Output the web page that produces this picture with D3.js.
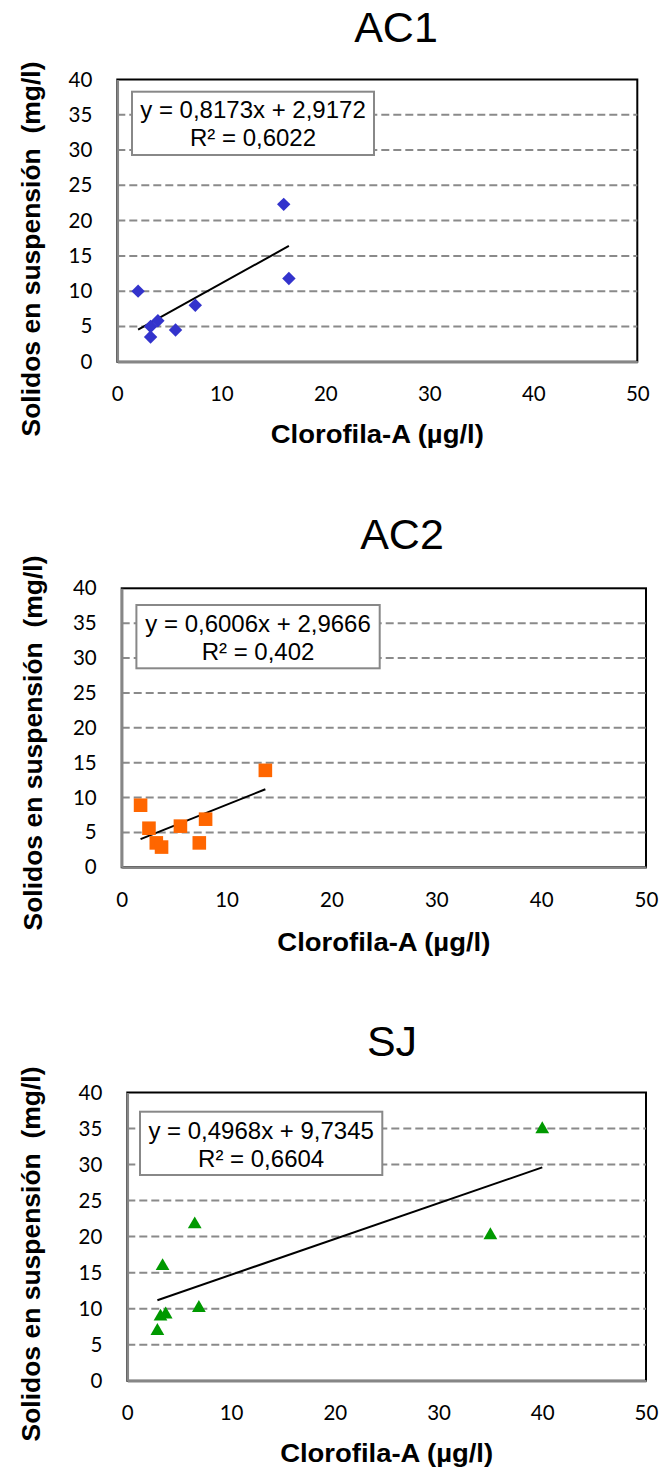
<!DOCTYPE html>
<html>
<head>
<meta charset="utf-8">
<script src="https://cdn.jsdelivr.net/npm/d3@7"></script>
<style>
  html, body { margin: 0; padding: 0; background: #ffffff; }
  svg { display: block; }
</style>
</head>
<body>
<svg id="chart" width="662" height="1473"></svg>
<script>
// ---------------- DATA ----------------
const chartTitles = ["AC1", "AC2", "SJ"];

const ac1X = [2.0, 3.2, 3.2, 3.9, 5.6, 7.5, 16.0, 16.5];
const ac1Y = [10.0, 5.0, 3.5, 5.8, 4.5, 8.0, 22.3, 11.8];

const ac2X = [1.8, 2.6, 3.3, 3.8, 5.6, 7.4, 8.0, 13.7];
const ac2Y = [8.9, 5.6, 3.5, 2.9, 5.9, 3.5, 6.9, 13.9];

const sjX = [2.9, 3.2, 3.7, 3.4, 6.5, 6.9, 35.0, 40.0];
const sjY = [6.9, 8.9, 9.2, 15.9, 21.7, 10.1, 20.2, 34.9];

const trendSlopes = [0.8173, 0.6006, 0.4968];
const trendIntercepts = [2.9172, 2.9666, 9.7345];
const equationLabels = ["y = 0,8173x + 2,9172", "y = 0,6006x + 2,9666", "y = 0,4968x + 9,7345"];
const r2Labels = ["R² = 0,6022", "R² = 0,402", "R² = 0,6604"];

const xTicks = [0, 10, 20, 30, 40, 50];
const yTicks = [0, 5, 10, 15, 20, 25, 30, 35, 40];
const xDomain = [0, 50];
const yDomain = [0, 40];

const xAxisTitle = "Clorofila-A (µg/l)";
const yAxisTitle = "Solidos en suspensión  (mg/l)";

// ---------------- LAYOUT / STYLE ----------------
const layouts = [
  { left: 117.3, right: 637.3, top: 79.5,  bottom: 361.7,  titleX: 396, titleY: 42,
    boxL: 132, boxR: 374, boxT: 91.7, boxB: 155, line1: 118, line2: 146, yTitleX: 40, yTitleCY: 249, xTitleY: 443,
    color: "#3333CC", shape: "diamond" },
  { left: 121.7, right: 646, top: 588.3, bottom: 867.3, titleX: 402, titleY: 549,
    boxL: 136.4, boxR: 379.7, boxT: 605, boxB: 668.3, line1: 632, line2: 660, yTitleX: 42, yTitleCY: 743, xTitleY: 951,
    color: "#FF6600", shape: "square" },
  { left: 127.3, right: 646, top: 1092.5, bottom: 1380.7, titleX: 392, titleY: 1056,
    boxL: 140, boxR: 382.3, boxT: 1111.7, boxB: 1175, line1: 1138.5, line2: 1167, yTitleX: 40, yTitleCY: 1254, xTitleY: 1462,
    color: "#009900", shape: "triangle" }
];

const seriesX = [ac1X, ac2X, sjX];
const seriesY = [ac1Y, ac2Y, sjY];

const svg = d3.select("#chart");
svg.append("rect").attr("width", 662).attr("height", 1473).attr("fill", "#ffffff");

layouts.forEach((L, i) => {
  const g = svg.append("g");
  const x = d3.scaleLinear().domain(xDomain).range([L.left, L.right]);
  const y = d3.scaleLinear().domain(yDomain).range([L.bottom, L.top]);

  // Title
  g.append("text")
    .attr("x", L.titleX).attr("y", L.titleY)
    .attr("text-anchor", "middle")
    .attr("font-family", "'Liberation Sans', Arial, sans-serif")
    .attr("font-size", 43)
    .attr("fill", "#000")
    .text(chartTitles[i]);

  // Plot area border (black)
  g.append("rect")
    .attr("x", L.left).attr("y", L.top)
    .attr("width", L.right - L.left).attr("height", L.bottom - L.top)
    .attr("fill", "#fff").attr("stroke", "#000").attr("stroke-width", 2);

  // Gridlines (dashed)
  g.append("g").selectAll("line")
    .data(yTicks.filter(t => t > yDomain[0] && t < yDomain[1]))
    .join("line")
    .attr("x1", L.left).attr("x2", L.right)
    .attr("y1", d => y(d)).attr("y2", d => y(d))
    .attr("stroke", "#8a8a8a").attr("stroke-width", 2)
    .attr("stroke-dasharray", "8,4");

  // Axes (gray lines left & bottom)
  const yAxis = d3.axisLeft(y).tickValues(yTicks).tickSize(0).tickPadding(25).tickFormat(d3.format("d"));
  const xAxis = d3.axisBottom(x).tickValues(xTicks).tickSize(0).tickPadding(25).tickFormat(d3.format("d"));

  const ya = g.append("g").attr("transform", `translate(${L.left},0)`).call(yAxis);
  const xa = g.append("g").attr("transform", `translate(0,${L.bottom})`).call(xAxis);
  [ya, xa].forEach(a => {
    a.select(".domain").attr("stroke", "#868686").attr("stroke-width", 2.5);
    a.selectAll("text")
      .attr("font-family", "Lato, 'Open Sans', sans-serif")
      .attr("font-size", 20.5)
      .attr("fill", "#000");
  });

  // Trendline
  const xs = seriesX[i];
  const xMin = d3.min(xs), xMax = d3.max(xs);
  const fit = v => trendSlopes[i] * v + trendIntercepts[i];
  g.append("line")
    .attr("x1", x(xMin)).attr("y1", y(fit(xMin)))
    .attr("x2", x(xMax)).attr("y2", y(fit(xMax)))
    .attr("stroke", "#000").attr("stroke-width", 2);

  // Markers
  const pts = xs.map((v, k) => ({ x: v, y: seriesY[i][k] }));
  let sym, size, rot = 0;
  if (L.shape === "diamond") { sym = d3.symbolSquare; size = 90; rot = 45; }
  else if (L.shape === "square") { sym = d3.symbolSquare; size = 185; }
  else { sym = d3.symbolTriangle; size = 82; }
  g.append("g").selectAll("path")
    .data(pts)
    .join("path")
    .attr("d", d3.symbol().type(sym).size(size))
    .attr("transform", d => `translate(${x(d.x)},${y(d.y)}) rotate(${rot})`)
    .attr("fill", L.color);

  // Equation box
  g.append("rect")
    .attr("x", L.boxL).attr("y", L.boxT)
    .attr("width", L.boxR - L.boxL).attr("height", L.boxB - L.boxT)
    .attr("fill", "#fff").attr("stroke", "#888").attr("stroke-width", 2);
  const bc = (L.boxL + L.boxR) / 2;
  g.append("text").attr("x", bc).attr("y", L.line1)
    .attr("text-anchor", "middle")
    .attr("font-family", "'Liberation Sans', Arial, sans-serif")
    .attr("font-size", 24).attr("fill", "#000")
    .text(equationLabels[i]);
  g.append("text").attr("x", bc).attr("y", L.line2)
    .attr("text-anchor", "middle")
    .attr("font-family", "'Liberation Sans', Arial, sans-serif")
    .attr("font-size", 24).attr("fill", "#000")
    .text(r2Labels[i]);

  // X axis title
  g.append("text")
    .attr("x", (L.left + L.right) / 2).attr("y", L.xTitleY)
    .attr("text-anchor", "middle")
    .attr("font-family", "'Liberation Sans', Arial, sans-serif")
    .attr("font-weight", "bold")
    .attr("font-size", 25)
    .attr("textLength", 213).attr("lengthAdjust", "spacingAndGlyphs")
    .attr("fill", "#000")
    .text(xAxisTitle);

  // Y axis title
  g.append("text")
    .attr("transform", `translate(${L.yTitleX},${L.yTitleCY}) rotate(-90)`)
    .attr("text-anchor", "middle")
    .attr("font-family", "'Liberation Sans', Arial, sans-serif")
    .attr("font-weight", "bold")
    .attr("font-size", 26)
    .attr("textLength", 375).attr("lengthAdjust", "spacingAndGlyphs")
    .style("white-space", "pre")
    .attr("fill", "#000")
    .text(yAxisTitle);
});
</script>
</body>
</html>
